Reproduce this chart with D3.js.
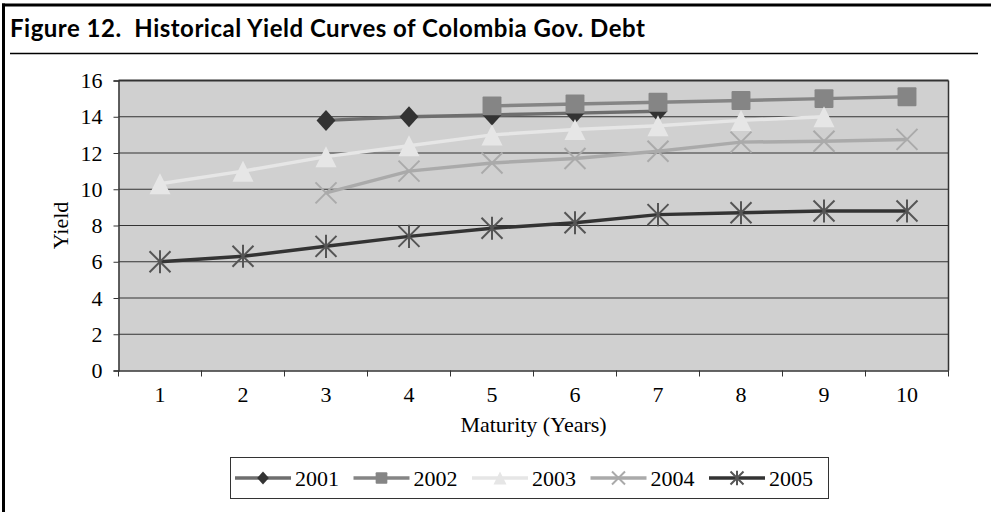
<!DOCTYPE html>
<html>
<head>
<meta charset="utf-8">
<script src="https://cdn.jsdelivr.net/npm/d3@7"></script>
<style>
  body { margin: 0; background: #fff; }
  svg { display: block; }
</style>
</head>
<body>
<svg id="chart"></svg>
<script>
// Maturity buckets and the yield series
const maturities = [1, 2, 3, 4, 5, 6, 7, 8, 9, 10];
const yTicks = [0, 2, 4, 6, 8, 10, 12, 14, 16];

const y2001 = [null, null, 13.8, 14.0, 14.1, 14.2, 14.3, null, null, null];
const y2002 = [null, null, null, null, 14.6, 14.7, 14.8, 14.9, 15.0, 15.1];
const y2003 = [10.3, 11.0, 11.8, 12.4, 13.0, 13.3, 13.5, 13.8, 14.0, null];
const y2004 = [null, null, 9.8, 11.0, 11.45, 11.7, 12.1, 12.6, 12.65, 12.75];
const y2005 = [6.0, 6.3, 6.85, 7.4, 7.85, 8.15, 8.6, 8.7, 8.8, 8.8];

const seriesNames = ["2001", "2002", "2003", "2004", "2005"];

const series = [
    { name: "2001", values: y2001, line: "#6e6e6e", fill: "#333333", marker: "diamond" },
    { name: "2002", values: y2002, line: "#858585", fill: "#858585", marker: "square" },
    { name: "2003", values: y2003, line: "#e6e6e6", fill: "#e6e6e6", marker: "triangle" },
    { name: "2004", values: y2004, line: "#aaaaaa", fill: "#aaaaaa", marker: "x" },
    { name: "2005", values: y2005, line: "#333333", fill: "#555555", marker: "star" }
];

const width = 991, height = 512;
const margin = { top: 80.5, right: 42.5, bottom: 141.5, left: 118.5 };
const serif = "'Liberation Serif', 'Times New Roman', serif";

const svg = d3.select("#chart")
              .attr("width", width)
              .attr("height", height);

// Outer frame: thick top and left rules
svg.append("line").attr("x1", 2).attr("x2", width).attr("y1", 5).attr("y2", 5)
   .attr("stroke", "#000").attr("stroke-width", 3);
svg.append("line").attr("x1", 3.5).attr("x2", 3.5).attr("y1", 3.5).attr("y2", height)
   .attr("stroke", "#000").attr("stroke-width", 3);

// Title and rule below it
svg.append("text")
   .attr("x", 10).attr("y", 37)
   .attr("font-family", "Lato, sans-serif")
   .attr("font-weight", "bold")
   .attr("font-size", 24)
   .attr("letter-spacing", 0.5)
   .attr("fill", "#000")
   .style("white-space", "pre")
   .text("Figure 12.  Historical Yield Curves of Colombia Gov. Debt");
svg.append("line").attr("x1", 10).attr("x2", 978).attr("y1", 53.5).attr("y2", 53.5)
   .attr("stroke", "#000").attr("stroke-width", 1.5);

// Scales
const x = d3.scaleBand()
            .domain(maturities)
            .range([margin.left, width - margin.right]);

const y = d3.scaleLinear()
            .domain([0, 16])
            .range([height - margin.bottom, margin.top]);

// Plot background
svg.append("rect")
   .attr("x", margin.left).attr("y", margin.top)
   .attr("width", width - margin.right - margin.left)
   .attr("height", height - margin.bottom - margin.top)
   .attr("fill", "#d0d0d0");

// Gridlines
svg.append("g")
   .selectAll("line")
   .data(yTicks.filter(d => d > 0))
   .join("line")
   .attr("x1", margin.left).attr("x2", width - margin.right)
   .attr("y1", d => y(d)).attr("y2", d => y(d))
   .attr("stroke", "#333")
   .attr("stroke-width", d => d === 16 ? 2 : 1);

// Right border
svg.append("line")
   .attr("x1", width - margin.right).attr("x2", width - margin.right)
   .attr("y1", margin.top).attr("y2", height - margin.bottom)
   .attr("stroke", "#333").attr("stroke-width", 1.5);

// Y axis
const yAxis = svg.append("g")
   .attr("transform", `translate(${margin.left}, 0)`)
   .call(d3.axisLeft(y).tickValues(yTicks).tickSize(5).tickPadding(11));

// X axis with ticks between categories
const xAxis = svg.append("g")
   .attr("transform", `translate(0, ${height - margin.bottom})`)
   .call(d3.axisBottom(x).tickSize(0).tickPadding(16));

xAxis.selectAll(".between")
   .data(maturities.concat([11]))
   .join("line")
   .attr("class", "between")
   .attr("x1", (d, i) => i < maturities.length ? x(d) : x(10) + x.bandwidth())
   .attr("x2", (d, i) => i < maturities.length ? x(d) : x(10) + x.bandwidth())
   .attr("y1", 0).attr("y2", 6)
   .attr("stroke", "#333");

[yAxis, xAxis].forEach(g => {
    g.attr("font-family", serif).attr("font-size", 22);
    g.select(".domain").attr("stroke", "#333").attr("stroke-width", 1.5);
    g.selectAll(".tick line").attr("stroke", "#333");
    g.selectAll("text").attr("fill", "#000");
});

// Axis titles
svg.append("text")
   .attr("x", (margin.left + width - margin.right) / 2)
   .attr("y", 432)
   .attr("text-anchor", "middle")
   .attr("font-family", serif)
   .attr("font-size", 22)
   .text("Maturity (Years)");

svg.append("text")
   .attr("transform", `translate(68, ${(margin.top + height - margin.bottom) / 2}) rotate(-90)`)
   .attr("text-anchor", "middle")
   .attr("font-family", serif)
   .attr("font-size", 22)
   .text("Yield");

// Marker shapes
function drawMarker(g, type, s, fill) {
    const r = s / 2;
    if (type === "diamond") {
        g.append("path").attr("d", `M0,${-r}L${r * 0.9},0L0,${r}L${-r * 0.9},0Z`).attr("fill", fill);
    } else if (type === "square") {
        g.append("rect").attr("x", -r * 0.9).attr("y", -r * 0.9)
         .attr("width", s * 0.9).attr("height", s * 0.9).attr("rx", 1).attr("fill", fill);
    } else if (type === "triangle") {
        g.append("path").attr("d", `M0,${-r}L${r},${r}L${-r},${r}Z`).attr("fill", fill);
    } else if (type === "x") {
        g.append("path").attr("d", `M${-r},${-r}L${r},${r}M${-r},${r}L${r},${-r}`)
         .attr("stroke", fill).attr("stroke-width", 2);
    } else if (type === "star") {
        g.append("path")
         .attr("d", `M${-r},${-r}L${r},${r}M${-r},${r}L${r},${-r}M0,${-r * 1.1}L0,${r * 1.1}`)
         .attr("stroke", fill).attr("stroke-width", 2);
    }
}

const line = d3.line()
               .defined(d => d.v != null)
               .x(d => x(d.m) + x.bandwidth() / 2)
               .y(d => y(d.v));

// Lines and markers, in series order
series.forEach(s => {
    const pts = maturities.map((m, i) => ({ m: m, v: s.values[i] }));
    const g = svg.append("g");
    g.append("path")
     .datum(pts)
     .attr("fill", "none")
     .attr("stroke", s.line)
     .attr("stroke-width", 3.5)
     .attr("d", line);
    pts.filter(d => d.v != null).forEach(d => {
        const mg = g.append("g")
                    .attr("transform", `translate(${x(d.m) + x.bandwidth() / 2}, ${y(d.v)})`);
        drawMarker(mg, s.marker, 21, s.fill);
    });
});

// Legend
const legend = svg.append("g");
legend.append("rect")
      .attr("x", 230.5).attr("y", 457.5)
      .attr("width", 598).attr("height", 41)
      .attr("fill", "#fff").attr("stroke", "#333");

const legendX = d3.scalePoint()
                  .domain(seriesNames)
                  .range([235, 709]);

series.forEach(s => {
    const lg = legend.append("g").attr("transform", `translate(${legendX(s.name)}, 478)`);
    lg.append("line").attr("x1", 0).attr("x2", 56).attr("y1", 0).attr("y2", 0)
      .attr("stroke", s.line).attr("stroke-width", 3.5);
    const mg = lg.append("g").attr("transform", "translate(28,0)");
    drawMarker(mg, s.marker, 13, s.fill);
    lg.append("text")
      .attr("x", 60).attr("y", 7.5)
      .attr("font-family", serif)
      .attr("font-size", 22)
      .text(s.name);
});
</script>
</body>
</html>
